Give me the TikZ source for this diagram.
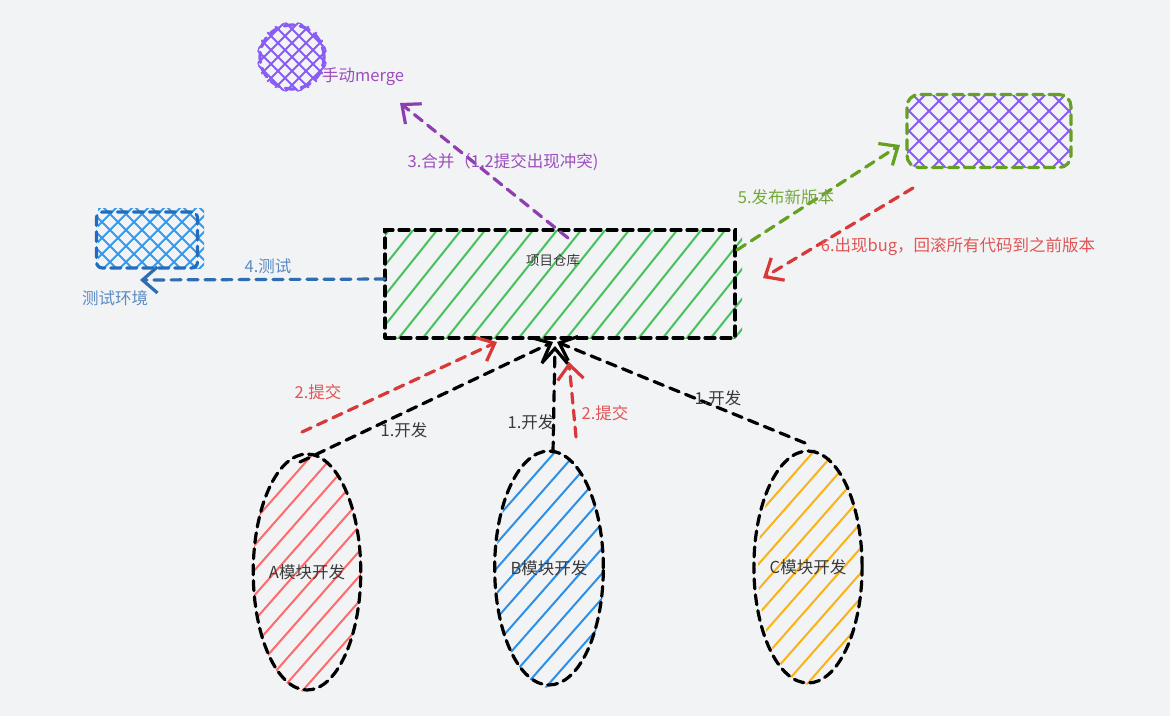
\documentclass[tikz,border=0pt]{standalone}
\usepackage{fontspec}
\setmainfont{Noto Sans CJK SC}
\usetikzlibrary{arrows.meta,shapes.geometric}
\definecolor{bg}{HTML}{F2F3F5}
\definecolor{ppl}{HTML}{8A5CF6}
\definecolor{ppltxt}{HTML}{9C4DBE}
\definecolor{pplarr}{HTML}{8E3FAF}
\definecolor{grn}{HTML}{66A022}
\definecolor{grntxt}{HTML}{72A83A}
\definecolor{redarr}{HTML}{D93838}
\definecolor{redtxt}{HTML}{E05555}
\definecolor{bluebrd}{HTML}{1F6DBF}
\definecolor{bluehat}{HTML}{3A9AEA}
\definecolor{bluearr}{HTML}{2F6DB3}
\definecolor{bluetxt}{HTML}{5A8CC4}
\definecolor{grnhat}{HTML}{45C05A}
\definecolor{redhat}{HTML}{FF6B6B}
\definecolor{bhat}{HTML}{2E8FE6}
\definecolor{yhat}{HTML}{F9B21A}
\definecolor{dark}{HTML}{3A3A3A}
\begin{document}
\begin{tikzpicture}[x=1pt,y=-1pt,
  border/.style={dash pattern=on 10pt off 6pt, line width=3.2pt, line cap=round},
  conn/.style={dash pattern=on 10pt off 7pt, line width=3.2pt, line cap=round,
     -{Straight Barb[length=15pt,width=26pt,line width=3.2pt]}},
  hatch/.style={line width=2pt},
  lbl/.style={font=\fontsize{16.5}{19}\selectfont, inner sep=0pt},
  shapebox/.style={inner sep=0pt, font=\fontsize{16.5}{19}\selectfont, text=dark}]
\fill[bg] (0,0) rectangle (1170,716);
\useasboundingbox (0,0) rectangle (1170,716);

% ---------- hatching ----------
\begin{scope}
\clip (292,57) circle (35);
\foreach \t in {-84,-70,...,84} {
  \draw[hatch,ppl] (292+\t-45,57+45) -- (292+\t+45,57-45);
  \draw[hatch,ppl] (292+\t-45,57-45) -- (292+\t+45,57+45);}
\end{scope}
\begin{scope}
\clip[rounded corners=12pt] (907,95) rectangle (1071,168);
\foreach \t in {-140,-120,...,140} {
  \draw[hatch,ppl] (989+\t-45,131+45) -- (989+\t+45,131-45);
  \draw[hatch,ppl] (989+\t-45,131-45) -- (989+\t+45,131+45);}
\end{scope}
\begin{scope}
\clip (98,208) rectangle (204,268);
\foreach \t in {-96,-80,...,96} {
  \draw[hatch,bluehat] (150+\t-35,238+35) -- (150+\t+35,238-35);
  \draw[hatch,bluehat] (150+\t-35,238-35) -- (150+\t+35,238+35);}
\end{scope}
\begin{scope}
\clip (385,230) rectangle (742,338);
\foreach \t in {-264,-240,...,264} {
  \draw[hatch,grnhat] (562+\t-48,284+60) -- (562+\t+48,284-60);}
\end{scope}
\begin{scope}
\clip (307,572) ellipse (54 and 120);
\foreach \t in {-230,-208,...,230} {
  \draw[hatch,redhat] (307+\t-110,572+125) -- (307+\t+110,572-125);}
\end{scope}
\begin{scope}
\clip (550,569) ellipse (54 and 119);
\foreach \t in {-230,-208,...,230} {
  \draw[hatch,bhat] (550+\t-110,569+125) -- (550+\t+110,569-125);}
\end{scope}
\begin{scope}
\clip (810,567) ellipse (52 and 118);
\foreach \t in {-230,-208,...,230} {
  \draw[hatch,yhat] (810+\t-110,567+125) -- (810+\t+110,567-125);}
\end{scope}

% ---------- shapes ----------
\node[shapebox, circle, minimum size=64pt, draw=ppl, border] (merge) at (292,57) {};
\node[lbl, text=ppltxt, anchor=west] (mergelbl) at (322,77) {手动merge};
\node[shapebox, rectangle, rounded corners=12pt, minimum width=164pt, minimum height=73pt, draw=grn, border] (release) at (989,131) {};
\node[shapebox, rectangle, rounded corners=6pt, minimum width=101pt, minimum height=56pt, draw=bluebrd, border] (test) at (147,240) {};
\node[lbl, text=bluetxt] (testlbl) at (115,298) {测试环境};
\node[shapebox, rectangle, minimum width=350pt, minimum height=108pt, draw=black, border] (repo) at (560,284) {};
\node[lbl, text=dark, font=\fontsize{13.5}{16}\selectfont] (repolbl) at (553,260) {项目仓库};
\node[shapebox, ellipse, minimum width=104pt, minimum height=236pt, draw=black, border] (A) at (307,572) {A模块开发};
\node[shapebox, ellipse, minimum width=100pt, minimum height=234pt, draw=black, border] (B) at (549,568) {B模块开发};
\node[shapebox, ellipse, minimum width=96pt, minimum height=232pt, draw=black, border] (C) at (808,567) {C模块开发};

% ---------- connector end points ----------
\coordinate (a1) at (300,462); \coordinate (h1) at (553,342);
\coordinate (b1) at (553,452); \coordinate (h2) at (555,346);
\coordinate (c1) at (805,443); \coordinate (h3) at (557,342);
\coordinate (r1s) at (302,432); \coordinate (r1e) at (497,342);
\coordinate (r2s) at (576,437); \coordinate (r2e) at (569,362);
\coordinate (t1s) at (385,279); \coordinate (t1e) at (140,280);
\coordinate (p1s) at (568,238); \coordinate (p1e) at (400,103);
\coordinate (g1s) at (737,250); \coordinate (g1e) at (900,145);
\coordinate (r6s) at (913,188); \coordinate (r6e) at (763,278);

% ---------- connectors ----------
\draw[conn, black] (a1) -- (h1);
\draw[conn, black] (b1) -- (h2);
\draw[conn, black] (c1) -- (h3);
\draw[conn, redarr] (r1s) -- (r1e);
\draw[conn, redarr] (r2s) -- (r2e);
\draw[conn, bluearr] (t1s) -- (t1e);
\draw[conn, pplarr] (p1s) -- (p1e);
\draw[conn, grn] (g1s) -- (g1e);
\draw[conn, redarr] (r6s) -- (r6e);

% ---------- labels ----------
\node[lbl, text=dark] (l1) at (404,430) {1.开发};
\node[lbl, text=dark] (l2) at (531,422) {1.开发};
\node[lbl, text=dark] (l3) at (718,398) {1.开发};
\node[lbl, text=redtxt] (l4) at (318,392) {2.提交};
\node[lbl, text=redtxt] (l5) at (605,413) {2.提交};
\node[lbl, text=bluetxt] (l6) at (268,266) {4.测试};
\node[lbl, text=ppltxt] (l7) at (503,162) {3.合并（1,2提交出现冲突)};
\node[lbl, text=grntxt] (l8) at (786,197) {5.发布新版本};
\node[lbl, text=redtxt] (l9) at (958,247) {6.出现bug，回滚所有代码到之前版本};
\end{tikzpicture}
\end{document}
